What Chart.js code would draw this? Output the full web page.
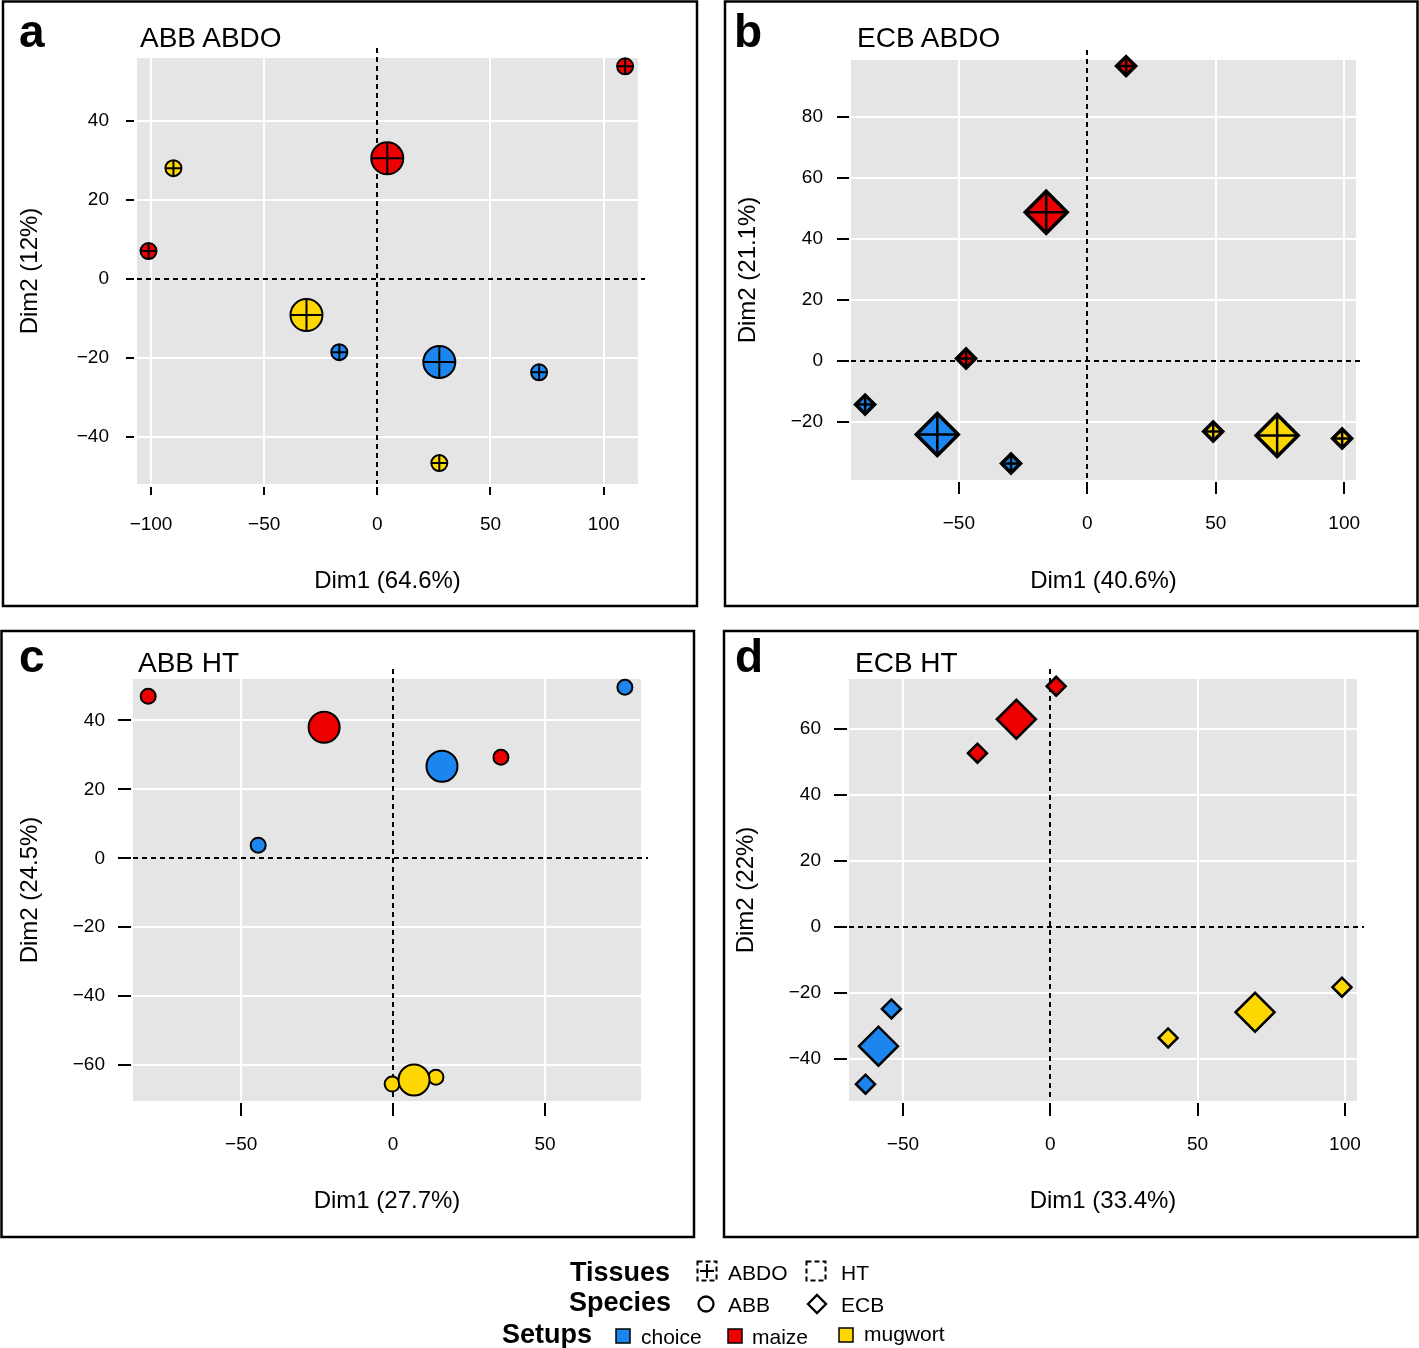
<!DOCTYPE html>
<html><head><meta charset="utf-8">
<script src="https://cdn.jsdelivr.net/npm/chart.js@4.4.1/dist/chart.umd.min.js"></script>
<style>
html,body{margin:0;padding:0;background:#fff;}
body{width:1419px;height:1348px;position:relative;overflow:hidden;font-family:'Liberation Sans',Arial,sans-serif;}
canvas{position:absolute;}
#overlay{position:absolute;left:0;top:0;pointer-events:none;}
</style></head><body>
<canvas id="cA"></canvas>
<canvas id="cB"></canvas>
<canvas id="cC"></canvas>
<canvas id="cD"></canvas>
<svg id="overlay" width="1419" height="1348" xmlns="http://www.w3.org/2000/svg" font-family="Liberation Sans, Arial, sans-serif">
  <g fill="none" stroke="#000" stroke-width="2.5">
    <rect x="3" y="1.5" width="694" height="604.5"/>
    <rect x="725" y="1.5" width="692.5" height="604.5"/>
    <rect x="1.5" y="631" width="692.5" height="606"/>
    <rect x="724" y="631" width="693.5" height="606"/>
  </g>
  <g font-weight="bold" font-size="46" fill="#000">
    <text x="19" y="47">a</text>
    <text x="734" y="47">b</text>
    <text x="19" y="672">c</text>
    <text x="735" y="672">d</text>
  </g>
  <g font-size="28" fill="#000">
    <text x="140" y="47">ABB ABDO</text>
    <text x="857" y="47">ECB ABDO</text>
    <text x="138" y="672">ABB HT</text>
    <text x="855" y="672">ECB HT</text>
  </g>
  <!-- legend -->
  <g font-weight="bold" font-size="27" fill="#000">
    <text x="570" y="1281">Tissues</text>
    <text x="569" y="1311">Species</text>
    <text x="502" y="1343">Setups</text>
  </g>
  <g font-size="21" fill="#000">
    <text x="728" y="1280">ABDO</text>
    <text x="841" y="1280">HT</text>
    <text x="728" y="1312">ABB</text>
    <text x="841" y="1312">ECB</text>
    <text x="641" y="1344">choice</text>
    <text x="752" y="1344">maize</text>
    <text x="864" y="1341">mugwort</text>
  </g>
  <g fill="none" stroke="#000" stroke-width="2">
    <rect x="697.5" y="1261.5" width="19" height="19" stroke-dasharray="5,3"/>
    <line x1="700" y1="1271" x2="714" y2="1271"/>
    <line x1="707" y1="1264" x2="707" y2="1278"/>
    <rect x="806.5" y="1261.5" width="19" height="19" stroke-dasharray="5,3"/>
    <circle cx="706" cy="1304" r="7.5" stroke-width="2.3"/>
    <polygon points="808,1304 817,1295 826,1304 817,1313" stroke-width="2.3"/>
  </g>
  <g stroke="#000" stroke-width="1.5">
    <rect x="616" y="1329" width="14" height="14" fill="#1C86EE"/>
    <rect x="728" y="1329" width="14" height="14" fill="#EE0000"/>
    <rect x="839" y="1328" width="14" height="14" fill="#FFD700"/>
  </g>
</svg>
<script>
// ---------------- DATA ----------------
const setupNames = ['choice', 'maize', 'mugwort'];
const setupColors = ['#1C86EE', '#EE0000', '#FFD700'];

// c:1 marks the large (group) marker
const ABB_ABDO_choice  = [{x:-16.8,y:-18.6,c:0},{x:71.5,y:-23.7,c:0},{x:27.4,y:-21.1,c:1}];
const ABB_ABDO_maize   = [{x:109.5,y:53.8,c:0},{x:-101.1,y:7.0,c:0},{x:4.4,y:30.5,c:1}];
const ABB_ABDO_mugwort = [{x:-90.1,y:28.0,c:0},{x:27.4,y:-46.7,c:0},{x:-31.3,y:-9.2,c:1}];

const ECB_ABDO_choice  = [{x:-86.5,y:-14.3,c:0},{x:-29.7,y:-33.6,c:0},{x:-58.4,y:-24.1,c:1}];
const ECB_ABDO_maize   = [{x:15.1,y:96.6,c:0},{x:-47.2,y:0.8,c:0},{x:-16.0,y:48.7,c:1}];
const ECB_ABDO_mugwort = [{x:49.0,y:-23.1,c:0},{x:99.2,y:-25.4,c:0},{x:73.9,y:-24.4,c:1}];

const ABB_HT_choice  = [{x:76.3,y:49.6,c:0},{x:-44.4,y:3.8,c:0},{x:16.1,y:26.7,c:1}];
const ABB_HT_maize   = [{x:-80.6,y:47.0,c:0},{x:35.5,y:29.3,c:0},{x:-22.7,y:38.0,c:1}];
const ABB_HT_mugwort = [{x:-0.3,y:-65.5,c:0},{x:14.1,y:-63.5,c:0},{x:6.9,y:-64.3,c:1}];

const ECB_HT_choice  = [{x:-53.9,y:-24.8,c:0},{x:-62.7,y:-47.6,c:0},{x:-58.3,y:-36.1,c:1}];
const ECB_HT_maize   = [{x:2.0,y:73.0,c:0},{x:-24.7,y:52.7,c:0},{x:-11.5,y:63.0,c:1}];
const ECB_HT_mugwort = [{x:40.0,y:-33.6,c:0},{x:99.0,y:-18.2,c:0},{x:69.5,y:-25.8,c:1}];

const A_xTicks = [-100,-50,0,50,100], A_yTicks = [-40,-20,0,20,40];
const B_xTicks = [-50,0,50,100],      B_yTicks = [-20,0,20,40,60,80];
const C_xTicks = [-50,0,50],          C_yTicks = [-60,-40,-20,0,20,40];
const D_xTicks = [-50,0,50,100],      D_yTicks = [-40,-20,0,20,40,60];

const A_xTitle = 'Dim1 (64.6%)', A_yTitle = 'Dim2 (12%)';
const B_xTitle = 'Dim1 (40.6%)', B_yTitle = 'Dim2 (21.1%)';
const C_xTitle = 'Dim1 (27.7%)', C_yTitle = 'Dim2 (24.5%)';
const D_xTitle = 'Dim1 (33.4%)', D_yTitle = 'Dim2 (22%)';

// ---------------- LAYOUT ----------------
const FONT = "'Liberation Sans', Arial, sans-serif";
const TICK_SIZE = 19, TITLE_SIZE = 24;

const fmt = v => v < 0 ? '\u2212' + Math.abs(v) : String(v);
const gridColor = c => (c.tick && c.tick.value === 0) ? 'rgba(0,0,0,0)' : '#fff';

const decoPlugin = {
  id: 'deco',
  beforeDraw(chart) {
    const {ctx, chartArea: a} = chart;
    ctx.save();
    ctx.fillStyle = '#E5E5E5';
    ctx.fillRect(a.left, a.top, a.right - a.left, a.bottom - a.top);
    ctx.restore();
  },
  beforeDatasetsDraw(chart) {
    const {ctx, chartArea: a, scales} = chart;
    const x0 = Math.round(scales.x.getPixelForValue(0)), y0 = Math.round(scales.y.getPixelForValue(0));
    ctx.save();
    ctx.strokeStyle = '#000'; ctx.lineWidth = 2; ctx.setLineDash([5, 4]);
    ctx.beginPath(); ctx.moveTo(x0, a.top - 10); ctx.lineTo(x0, a.bottom); ctx.stroke();
    ctx.beginPath(); ctx.moveTo(a.left, y0); ctx.lineTo(a.right + 7, y0); ctx.stroke();
    ctx.restore();
  },
  afterDraw(chart, args, opts) {
    const {ctx, chartArea: a, scales} = chart;
    const gap = opts.gap, len = opts.len;
    ctx.save();
    ctx.strokeStyle = '#000'; ctx.lineWidth = 2;
    scales.x.ticks.forEach(t => {
      const p = Math.round(scales.x.getPixelForValue(t.value));
      ctx.beginPath(); ctx.moveTo(p, a.bottom + gap); ctx.lineTo(p, a.bottom + gap + len); ctx.stroke();
    });
    scales.y.ticks.forEach(t => {
      const p = Math.round(scales.y.getPixelForValue(t.value));
      ctx.beginPath(); ctx.moveTo(a.left - gap - len, p); ctx.lineTo(a.left - gap, p); ctx.stroke();
    });
    ctx.restore();
  }
};

function makePanel(id, geo, sets, style, sz, cross, xTicks, yTicks, xTitle, yTitle) {
  const cv = document.getElementById(id);
  cv.width = geo.cw; cv.height = geo.ch;
  cv.style.left = geo.cx + 'px'; cv.style.top = geo.cy + 'px';
  cv.style.width = geo.cw + 'px'; cv.style.height = geo.ch + 'px';

  const radius = c => (c.raw && c.raw.c) ? sz.big : sz.small;
  const datasets = [];
  sets.forEach((pts, i) => {
    datasets.push({
      label: setupNames[i], data: pts, showLine: false, clip: false, order: 2,
      pointStyle: style, pointRadius: radius, pointHoverRadius: radius,
      pointBackgroundColor: setupColors[i], pointBorderColor: '#000',
      pointBorderWidth: sz.bw, pointHoverBorderWidth: sz.bw
    });
    if (cross) datasets.push({
      label: setupNames[i] + ' ABDO', data: pts, showLine: false, clip: false, order: 1,
      pointStyle: 'cross', pointRadius: radius, pointHoverRadius: radius,
      pointBorderColor: '#000', pointBorderWidth: sz.cw, pointHoverBorderWidth: sz.cw
    });
  });

  const tickFont = {family: FONT, size: TICK_SIZE};
  const titleFont = {family: FONT, size: TITLE_SIZE};
  const tLH = TICK_SIZE * 1.2, hLH = TITLE_SIZE * 1.2;

  new Chart(cv, {
    type: 'scatter',
    data: {datasets},
    plugins: [decoPlugin],
    options: {
      responsive: false, animation: false, devicePixelRatio: 1, events: [],
      layout: {padding: {left: 0, bottom: 0, top: geo.gt - geo.cy, right: geo.cx + geo.cw - geo.gr}},
      plugins: {legend: {display: false}, tooltip: {enabled: false}, deco: {gap: geo.gap, len: geo.len}},
      scales: {
        x: {
          type: 'linear', position: 'bottom', min: geo.xmin, max: geo.xmax,
          afterBuildTicks: s => { s.ticks = xTicks.map(v => ({value: v})); },
          afterFit: s => { s.height = geo.cy + geo.ch - geo.gb; },
          grid: {color: gridColor, lineWidth: 2, drawTicks: false},
          border: {display: false},
          ticks: {font: tickFont, color: '#000', padding: geo.xLab - geo.gb - tLH / 2,
                  autoSkip: false, maxRotation: 0, callback: fmt},
          title: {display: true, text: xTitle, font: titleFont, color: '#000',
                  padding: {top: 0, bottom: geo.cy + geo.ch - geo.xTit - hLH / 2}}
        },
        y: {
          type: 'linear', position: 'left', min: geo.ymin, max: geo.ymax,
          afterBuildTicks: s => { s.ticks = yTicks.map(v => ({value: v})); },
          afterFit: s => { s.width = geo.gl - geo.cx; },
          grid: {color: gridColor, lineWidth: 2, drawTicks: false},
          border: {display: false},
          ticks: {font: tickFont, color: '#000', padding: 28, autoSkip: false, callback: fmt},
          title: {display: true, text: yTitle, font: titleFont, color: '#000',
                  padding: {top: geo.yTit - geo.cx - hLH / 2, bottom: 0}}
        }
      }
    }
  });
}

makePanel('cA',
  {cx: 3, cy: 1, cw: 694, ch: 605, gl: 137, gt: 58, gr: 638, gb: 484,
   xmin: -106.2, xmax: 115.2, ymin: -52.0, ymax: 55.9,
   xLab: 525, xTit: 581, yTit: 30, gap: 3, len: 8},
  [ABB_ABDO_choice, ABB_ABDO_maize, ABB_ABDO_mugwort], 'circle',
  {big: 16, small: 8, bw: 2, cw: 2}, true, A_xTicks, A_yTicks, A_xTitle, A_yTitle);

makePanel('cB',
  {cx: 725, cy: 1, cw: 693, ch: 605, gl: 851, gt: 60, gr: 1356, gb: 480,
   xmin: -92.0, xmax: 104.6, ymin: -39.0, ymax: 98.6,
   xLab: 524, xTit: 581, yTit: 748, gap: 2, len: 12},
  [ECB_ABDO_choice, ECB_ABDO_maize, ECB_ABDO_mugwort], 'rectRot',
  {big: 21, small: 9.5, bw: 3.5, cw: 2.5}, true, B_xTicks, B_yTicks, B_xTitle, B_yTitle);

makePanel('cC',
  {cx: 1, cy: 631, cw: 693, ch: 606, gl: 133, gt: 679, gr: 641, gb: 1101,
   xmin: -85.6, xmax: 81.6, ymin: -70.4, ymax: 52.0,
   xLab: 1145, xTit: 1201, yTit: 30, gap: 2, len: 13},
  [ABB_HT_choice, ABB_HT_maize, ABB_HT_mugwort], 'circle',
  {big: 15.5, small: 7.5, bw: 2, cw: 2}, false, C_xTicks, C_yTicks, C_xTitle, C_yTitle);

makePanel('cD',
  {cx: 724, cy: 631, cw: 694, ch: 606, gl: 849, gt: 679, gr: 1357, gb: 1101,
   xmin: -68.3, xmax: 104.1, ymin: -52.7, ymax: 75.2,
   xLab: 1145, xTit: 1201, yTit: 746, gap: 2, len: 13},
  [ECB_HT_choice, ECB_HT_maize, ECB_HT_mugwort], 'rectRot',
  {big: 19.5, small: 9.5, bw: 2.5, cw: 2}, false, D_xTicks, D_yTicks, D_xTitle, D_yTitle);
</script>
</body></html>
